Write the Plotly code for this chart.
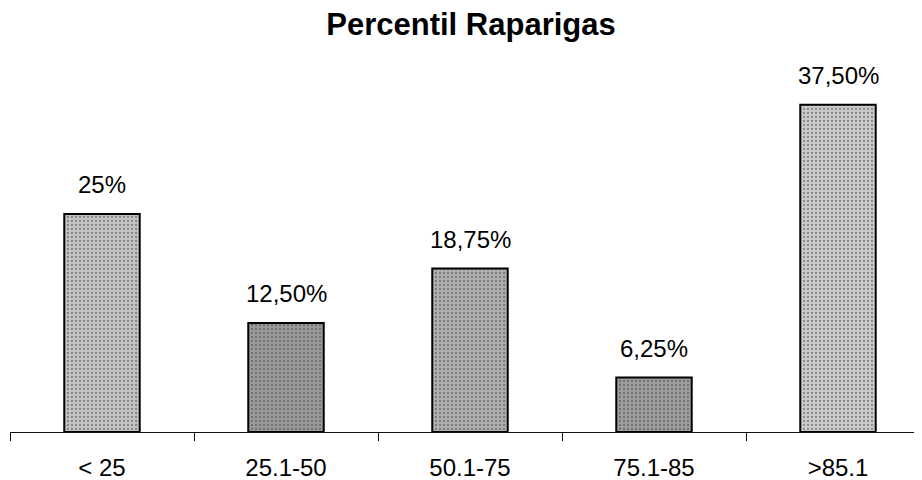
import plotly.graph_objects as go

categories = ["< 25", "25.1-50", "50.1-75", "75.1-85", ">85.1"]
values = [25, 12.5, 18.75, 6.25, 37.5]
labels = ["25%", "12,50%", "18,75%", "6,25%", "37,50%"]
bar_colors = ["#c4c4c4", "#9a9a9a", "#b0b0b0", "#9e9e9e", "#cccccc"]

FONT = "Liberation Sans, Arial, sans-serif"

# page adds an 8px body margin, so the figure is drawn 8px smaller
W, H = 914, 472

fig = go.Figure()
fig.add_trace(go.Bar(
    x=categories,
    y=values,
    width=0.41,
    marker=dict(
        color=bar_colors,
        line=dict(color="#000000", width=2),
        pattern=dict(shape=".", fgcolor="#555555", size=4, solidity=0.25, fillmode="overlay"),
    ),
    hoverinfo="skip",
))

for c, v, t in zip(categories, values, labels):
    fig.add_annotation(x=c, y=v, text=t, showarrow=False, yshift=29,
                       font=dict(family=FONT, size=24, color="#000000"))

fig.update_layout(
    width=W, height=H,
    margin=dict(l=2, r=0, t=75, b=48),
    paper_bgcolor="white", plot_bgcolor="white",
    showlegend=False,
    title=dict(text="<b>Percentil Raparigas</b>", x=463 / W, xanchor="center", xref="container",
               y=1 - 16 / H, yanchor="middle", yref="container",
               font=dict(family=FONT, size=31, color="#000000")),
)
fig.update_xaxes(
    type="category",
    range=[-0.5, -0.5 + 912 / 184],
    showline=True, linecolor="#111111", linewidth=1,
    ticks="outside", tickson="boundaries", ticklen=8, tickcolor="#111111", tickwidth=1,
    tickfont=dict(family=FONT, size=24, color="#000000"),
    ticklabelstandoff=14,
    showgrid=False, zeroline=False,
)
fig.update_yaxes(
    range=[0, 40], visible=False, showgrid=False, zeroline=False,
)

fig.write_html("out.html")
